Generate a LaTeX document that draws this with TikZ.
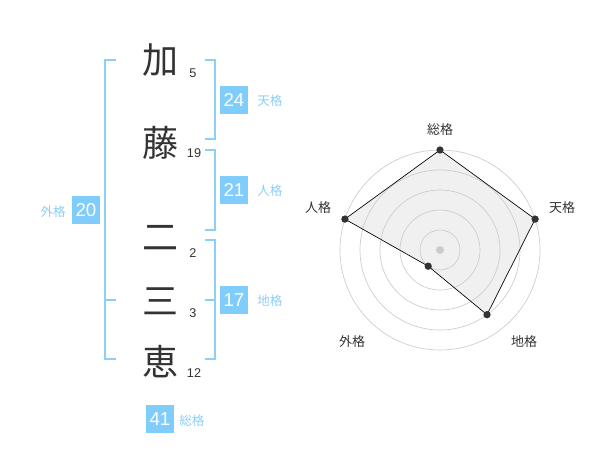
\documentclass[tikz,border=0pt]{standalone}
\usepackage{fontspec}
\setmainfont{Liberation Sans}
\newfontfamily\jp{Noto Sans CJK JP}
\definecolor{tdark}{RGB}{51,51,51}
\definecolor{boxblue}{RGB}{128,204,250}
\definecolor{bblue}{RGB}{140,208,248}
\definecolor{lblue}{RGB}{140,206,245}
\definecolor{ring}{RGB}{204,204,204}
\definecolor{polyfill}{RGB}{240,240,240}
\tikzset{
  kanji/.style={font=\jp\fontsize{27}{27}\selectfont, text=tdark, inner sep=0pt},
  strokes/.style={font=\fontsize{9.5}{10}\selectfont, text=tdark, inner sep=0pt},
  numbox/.style={fill=boxblue, text=white, minimum width=21pt, minimum height=21pt, inner sep=0pt, font=\fontsize{14}{14}\selectfont},
  kaku/.style={text=lblue, font=\jp\fontsize{9.4}{9.4}\selectfont, inner sep=0pt},
  bracket/.style={draw=bblue, line width=1.5pt},
  rlabel/.style={text=tdark, font=\jp\fontsize{9.75}{9.75}\selectfont, inner sep=0pt},
  rdot/.style={circle, fill=tdark, minimum size=5.5pt, inner sep=0pt},
  ringline/.style={draw=ring, line width=0.5pt},
}
\begin{document}
\begin{tikzpicture}[x=0.75pt,y=-0.75pt]
\useasboundingbox (0,0) rectangle (600,470);
% kanji
\node[kanji] (k1) at (160,60) {加};
\node[kanji] (k2) at (160,143) {藤};
\node[kanji] (k3) at (160,238) {二};
\node[kanji] (k4) at (160,301) {三};
\node[kanji] (k5) at (160,362) {恵};
\node[strokes] (s1) at (193,73) {5};
\node[strokes] (s2) at (194,153) {19};
\node[strokes] (s3) at (193,253) {2};
\node[strokes] (s4) at (193,313) {3};
\node[strokes] (s5) at (194,373) {12};
% brackets
\draw[bracket] (116,60) -- (105,60) -- (105,359) -- (116,359);
\draw[bracket] (105,300) -- (116,300);
\draw[bracket] (205,60) -- (215,60) -- (215,139) -- (205,139);
\draw[bracket] (205,150) -- (215,150) -- (215,230) -- (205,230);
\draw[bracket] (205,240) -- (215,240) -- (215,359) -- (205,359);
\draw[bracket] (205,300) -- (215,300);
% boxes
\node[numbox] (b24) at (234,100) {24};
\node[kaku, anchor=west] (l24) at (257,101) {天格};
\node[numbox] (b21) at (234,190) {21};
\node[kaku, anchor=west] (l21) at (257,191) {人格};
\node[numbox] (b17) at (234,300) {17};
\node[kaku, anchor=west] (l17) at (257,301) {地格};
\node[numbox] (b20) at (86,210) {20};
\node[kaku, anchor=east] (l20) at (66,212) {外格};
\node[numbox] (b41) at (160,419) {41};
\node[kaku, anchor=west] (l41) at (179,421) {総格};
% radar
\coordinate (c) at (440,250);
\coordinate (q1) at (440,150);
\coordinate (q2) at (535.1,219.1);
\coordinate (q3) at (487.0,314.7);
\coordinate (q4) at (428.2,266.2);
\coordinate (q5) at (344.9,219.1);
\fill[polyfill] (q1) -- (q2) -- (q3) -- (q4) -- (q5) -- cycle;
\foreach \r in {15,30,45,60,75} \draw[ringline] (c) circle[radius=\r pt];
\fill[ring] (c) circle[radius=3pt];
\draw[black, line width=0.5pt] (q1) -- (q2) -- (q3) -- (q4) -- (q5) -- cycle;
\node[rdot] (d1) at (q1) {};
\node[rdot] (d2) at (q2) {};
\node[rdot] (d3) at (q3) {};
\node[rdot] (d4) at (q4) {};
\node[rdot] (d5) at (q5) {};
\node[rlabel] (r1) at (440,130) {総格};
\node[rlabel] (r2) at (562,208) {天格};
\node[rlabel] (r3) at (524,342) {地格};
\node[rlabel] (r4) at (352,342) {外格};
\node[rlabel] (r5) at (318,208) {人格};
\end{tikzpicture}
\end{document}
